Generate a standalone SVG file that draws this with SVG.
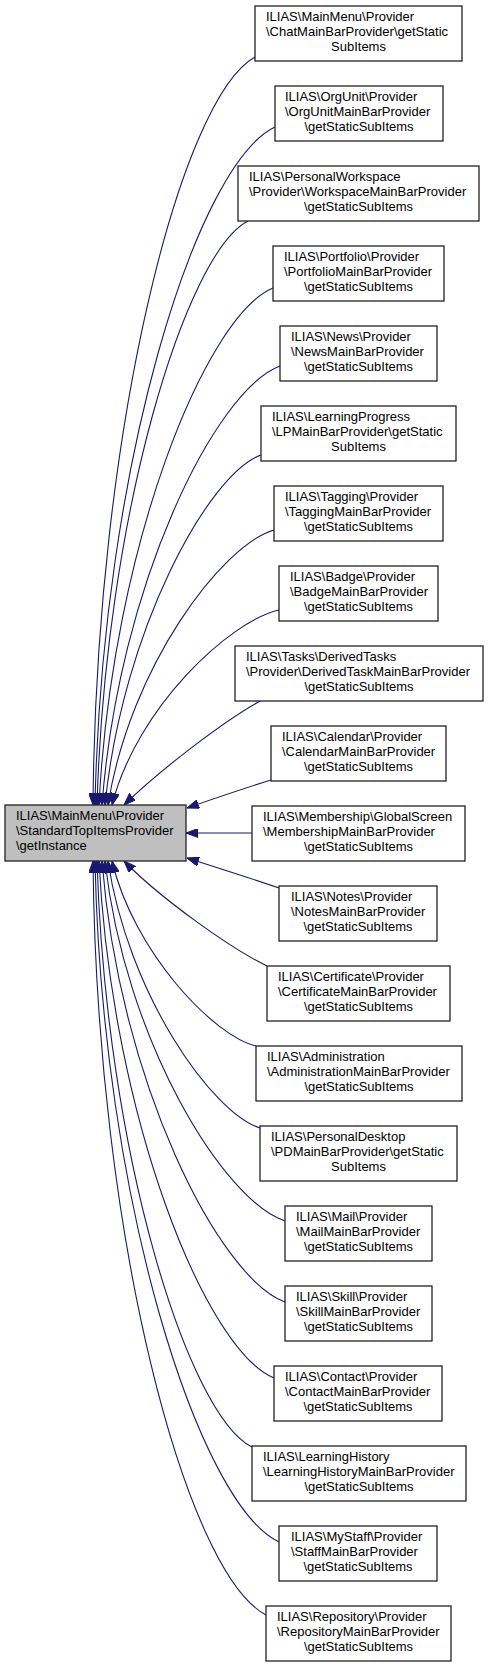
<svg xmlns="http://www.w3.org/2000/svg" width="488" height="1667" viewBox="0 0 488 1667">
<style>
.n rect{fill:#ffffff;stroke:#222222;stroke-width:1.3}
.m rect{fill:#bfbfbf;stroke:#222222;stroke-width:1.3}
text{font-family:"Liberation Sans",Helvetica,Arial,sans-serif;font-size:13px;fill:#000000}
.c{text-anchor:middle}
#edges path{fill:none;stroke:#191970;stroke-width:1.1;marker-end:url(#ah)}
</style>
<defs>
<marker id="ah" viewBox="0 0 12 9" refX="12" refY="4.5" markerWidth="12" markerHeight="9" markerUnits="userSpaceOnUse" orient="auto"><path d="M0,0L12,4.5L0,9z" fill="#191970" stroke="#191970" stroke-width="1"/></marker>
</defs>
<rect width="488" height="1667" fill="#ffffff"/>
<g id="edges">
<path d="M255,57 C180.5,98 96.2,431 93,805"/>
<path d="M275,127 C196.5,164 102,466 95,805"/>
<path d="M248,221 C186,253 105.6,513 97,805"/>
<path d="M273,288 C205.7,316 112.2,546 99,805"/>
<path d="M280,366 C215.4,390 118.7,585 102,805"/>
<path d="M261,455 C208.3,474 122.6,630 105,805"/>
<path d="M274,530 C222,545 129.9,667 108,805"/>
<path d="M279,610 C230,621 137,707 112,805"/>
<path d="M262,700 C225,720 160,770 124,805"/>
<path d="M271,780 C245,788 210,800 187,808"/>
<path d="M252,833 L186,833"/>
<path d="M279,888 C250,878 212,866 187,858"/>
<path d="M267,966 C230,948 160,898 124,861"/>
<path d="M256,1046 C214,1036 134,953 112,861"/>
<path d="M260,1128 C212,1113 128,994 108,861"/>
<path d="M285,1221 C224,1201 125,1041 105,861"/>
<path d="M285,1302 C219,1278 119,1081 102,861"/>
<path d="M274,1378 C206,1350 112,1119 99,861"/>
<path d="M252,1447 C188,1415 106,1154 97,861"/>
<path d="M279,1542 C199,1504 102,1201 95,861"/>
<path d="M266,1615 C186,1573 96.5,1238 93,861"/>
</g>
<g id="main" class="m"><rect x="5" y="805" width="181" height="56"/><text x="16" y="820">ILIAS\MainMenu\Provider</text><text x="16" y="835">\StandardTopItemsProvider</text><text x="16" y="850">\getInstance</text></g>
<g id="n0" class="n"><rect x="255" y="6" width="207" height="55"/><text x="266" y="20.5">ILIAS\MainMenu\Provider</text><text x="266" y="35.5">\ChatMainBarProvider\getStatic</text><text class="c" x="358.5" y="50.5">SubItems</text></g>
<g id="n1" class="n"><rect x="275" y="86" width="168" height="55"/><text x="285" y="100.5">ILIAS\OrgUnit\Provider</text><text x="285" y="115.5">\OrgUnitMainBarProvider</text><text class="c" x="359" y="130.5">\getStaticSubItems</text></g>
<g id="n2" class="n"><rect x="238" y="166" width="241" height="55"/><text x="249" y="180.5">ILIAS\PersonalWorkspace</text><text x="249" y="195.5">\Provider\WorkspaceMainBarProvider</text><text class="c" x="358.5" y="210.5">\getStaticSubItems</text></g>
<g id="n3" class="n"><rect x="273" y="246" width="171" height="55"/><text x="284" y="260.5">ILIAS\Portfolio\Provider</text><text x="284" y="275.5">\PortfolioMainBarProvider</text><text class="c" x="358.5" y="290.5">\getStaticSubItems</text></g>
<g id="n4" class="n"><rect x="280" y="326" width="157" height="55"/><text x="291" y="340.5">ILIAS\News\Provider</text><text x="291" y="355.5">\NewsMainBarProvider</text><text class="c" x="358.5" y="370.5">\getStaticSubItems</text></g>
<g id="n5" class="n"><rect x="261" y="406" width="195" height="55"/><text x="272" y="420.5">ILIAS\LearningProgress</text><text x="272" y="435.5">\LPMainBarProvider\getStatic</text><text class="c" x="358.5" y="450.5">SubItems</text></g>
<g id="n6" class="n"><rect x="274" y="486" width="169" height="55"/><text x="285" y="500.5">ILIAS\Tagging\Provider</text><text x="285" y="515.5">\TaggingMainBarProvider</text><text class="c" x="358.5" y="530.5">\getStaticSubItems</text></g>
<g id="n7" class="n"><rect x="279" y="566" width="159" height="55"/><text x="290" y="580.5">ILIAS\Badge\Provider</text><text x="290" y="595.5">\BadgeMainBarProvider</text><text class="c" x="358.5" y="610.5">\getStaticSubItems</text></g>
<g id="n8" class="n"><rect x="235" y="646" width="248" height="55"/><text x="246" y="660.5">ILIAS\Tasks\DerivedTasks</text><text x="246" y="675.5">\Provider\DerivedTaskMainBarProvider</text><text class="c" x="359" y="690.5">\getStaticSubItems</text></g>
<g id="n9" class="n"><rect x="271" y="726" width="175" height="55"/><text x="282" y="740.5">ILIAS\Calendar\Provider</text><text x="282" y="755.5">\CalendarMainBarProvider</text><text class="c" x="358.5" y="770.5">\getStaticSubItems</text></g>
<g id="n10" class="n"><rect x="252" y="806" width="213" height="55"/><text x="263" y="820.5">ILIAS\Membership\GlobalScreen</text><text x="263" y="835.5">\MembershipMainBarProvider</text><text class="c" x="358.5" y="850.5">\getStaticSubItems</text></g>
<g id="n11" class="n"><rect x="279" y="886" width="158" height="55"/><text x="291" y="900.5">ILIAS\Notes\Provider</text><text x="291" y="915.5">\NotesMainBarProvider</text><text class="c" x="358" y="930.5">\getStaticSubItems</text></g>
<g id="n12" class="n"><rect x="267" y="966" width="183" height="55"/><text x="278" y="980.5">ILIAS\Certificate\Provider</text><text x="278" y="995.5">\CertificateMainBarProvider</text><text class="c" x="358.5" y="1010.5">\getStaticSubItems</text></g>
<g id="n13" class="n"><rect x="256" y="1046" width="206" height="55"/><text x="267" y="1060.5">ILIAS\Administration</text><text x="267" y="1075.5">\AdministrationMainBarProvider</text><text class="c" x="359" y="1090.5">\getStaticSubItems</text></g>
<g id="n14" class="n"><rect x="260" y="1126" width="197" height="55"/><text x="271" y="1140.5">ILIAS\PersonalDesktop</text><text x="271" y="1155.5">\PDMainBarProvider\getStatic</text><text class="c" x="358.5" y="1170.5">SubItems</text></g>
<g id="n15" class="n"><rect x="285" y="1206" width="147" height="55"/><text x="296" y="1220.5">ILIAS\Mail\Provider</text><text x="296" y="1235.5">\MailMainBarProvider</text><text class="c" x="358.5" y="1250.5">\getStaticSubItems</text></g>
<g id="n16" class="n"><rect x="285" y="1286" width="147" height="55"/><text x="296" y="1300.5">ILIAS\Skill\Provider</text><text x="296" y="1315.5">\SkillMainBarProvider</text><text class="c" x="358.5" y="1330.5">\getStaticSubItems</text></g>
<g id="n17" class="n"><rect x="274" y="1366" width="168" height="55"/><text x="285" y="1380.5">ILIAS\Contact\Provider</text><text x="285" y="1395.5">\ContactMainBarProvider</text><text class="c" x="358" y="1410.5">\getStaticSubItems</text></g>
<g id="n18" class="n"><rect x="252" y="1446" width="214" height="55"/><text x="263" y="1460.5">ILIAS\LearningHistory</text><text x="263" y="1475.5">\LearningHistoryMainBarProvider</text><text class="c" x="359" y="1490.5">\getStaticSubItems</text></g>
<g id="n19" class="n"><rect x="279" y="1526" width="158" height="55"/><text x="291" y="1540.5">ILIAS\MyStaff\Provider</text><text x="291" y="1555.5">\StaffMainBarProvider</text><text class="c" x="358" y="1570.5">\getStaticSubItems</text></g>
<g id="n20" class="n"><rect x="266" y="1606" width="185" height="55"/><text x="277" y="1620.5">ILIAS\Repository\Provider</text><text x="277" y="1635.5">\RepositoryMainBarProvider</text><text class="c" x="358.5" y="1650.5">\getStaticSubItems</text></g>
</svg>
